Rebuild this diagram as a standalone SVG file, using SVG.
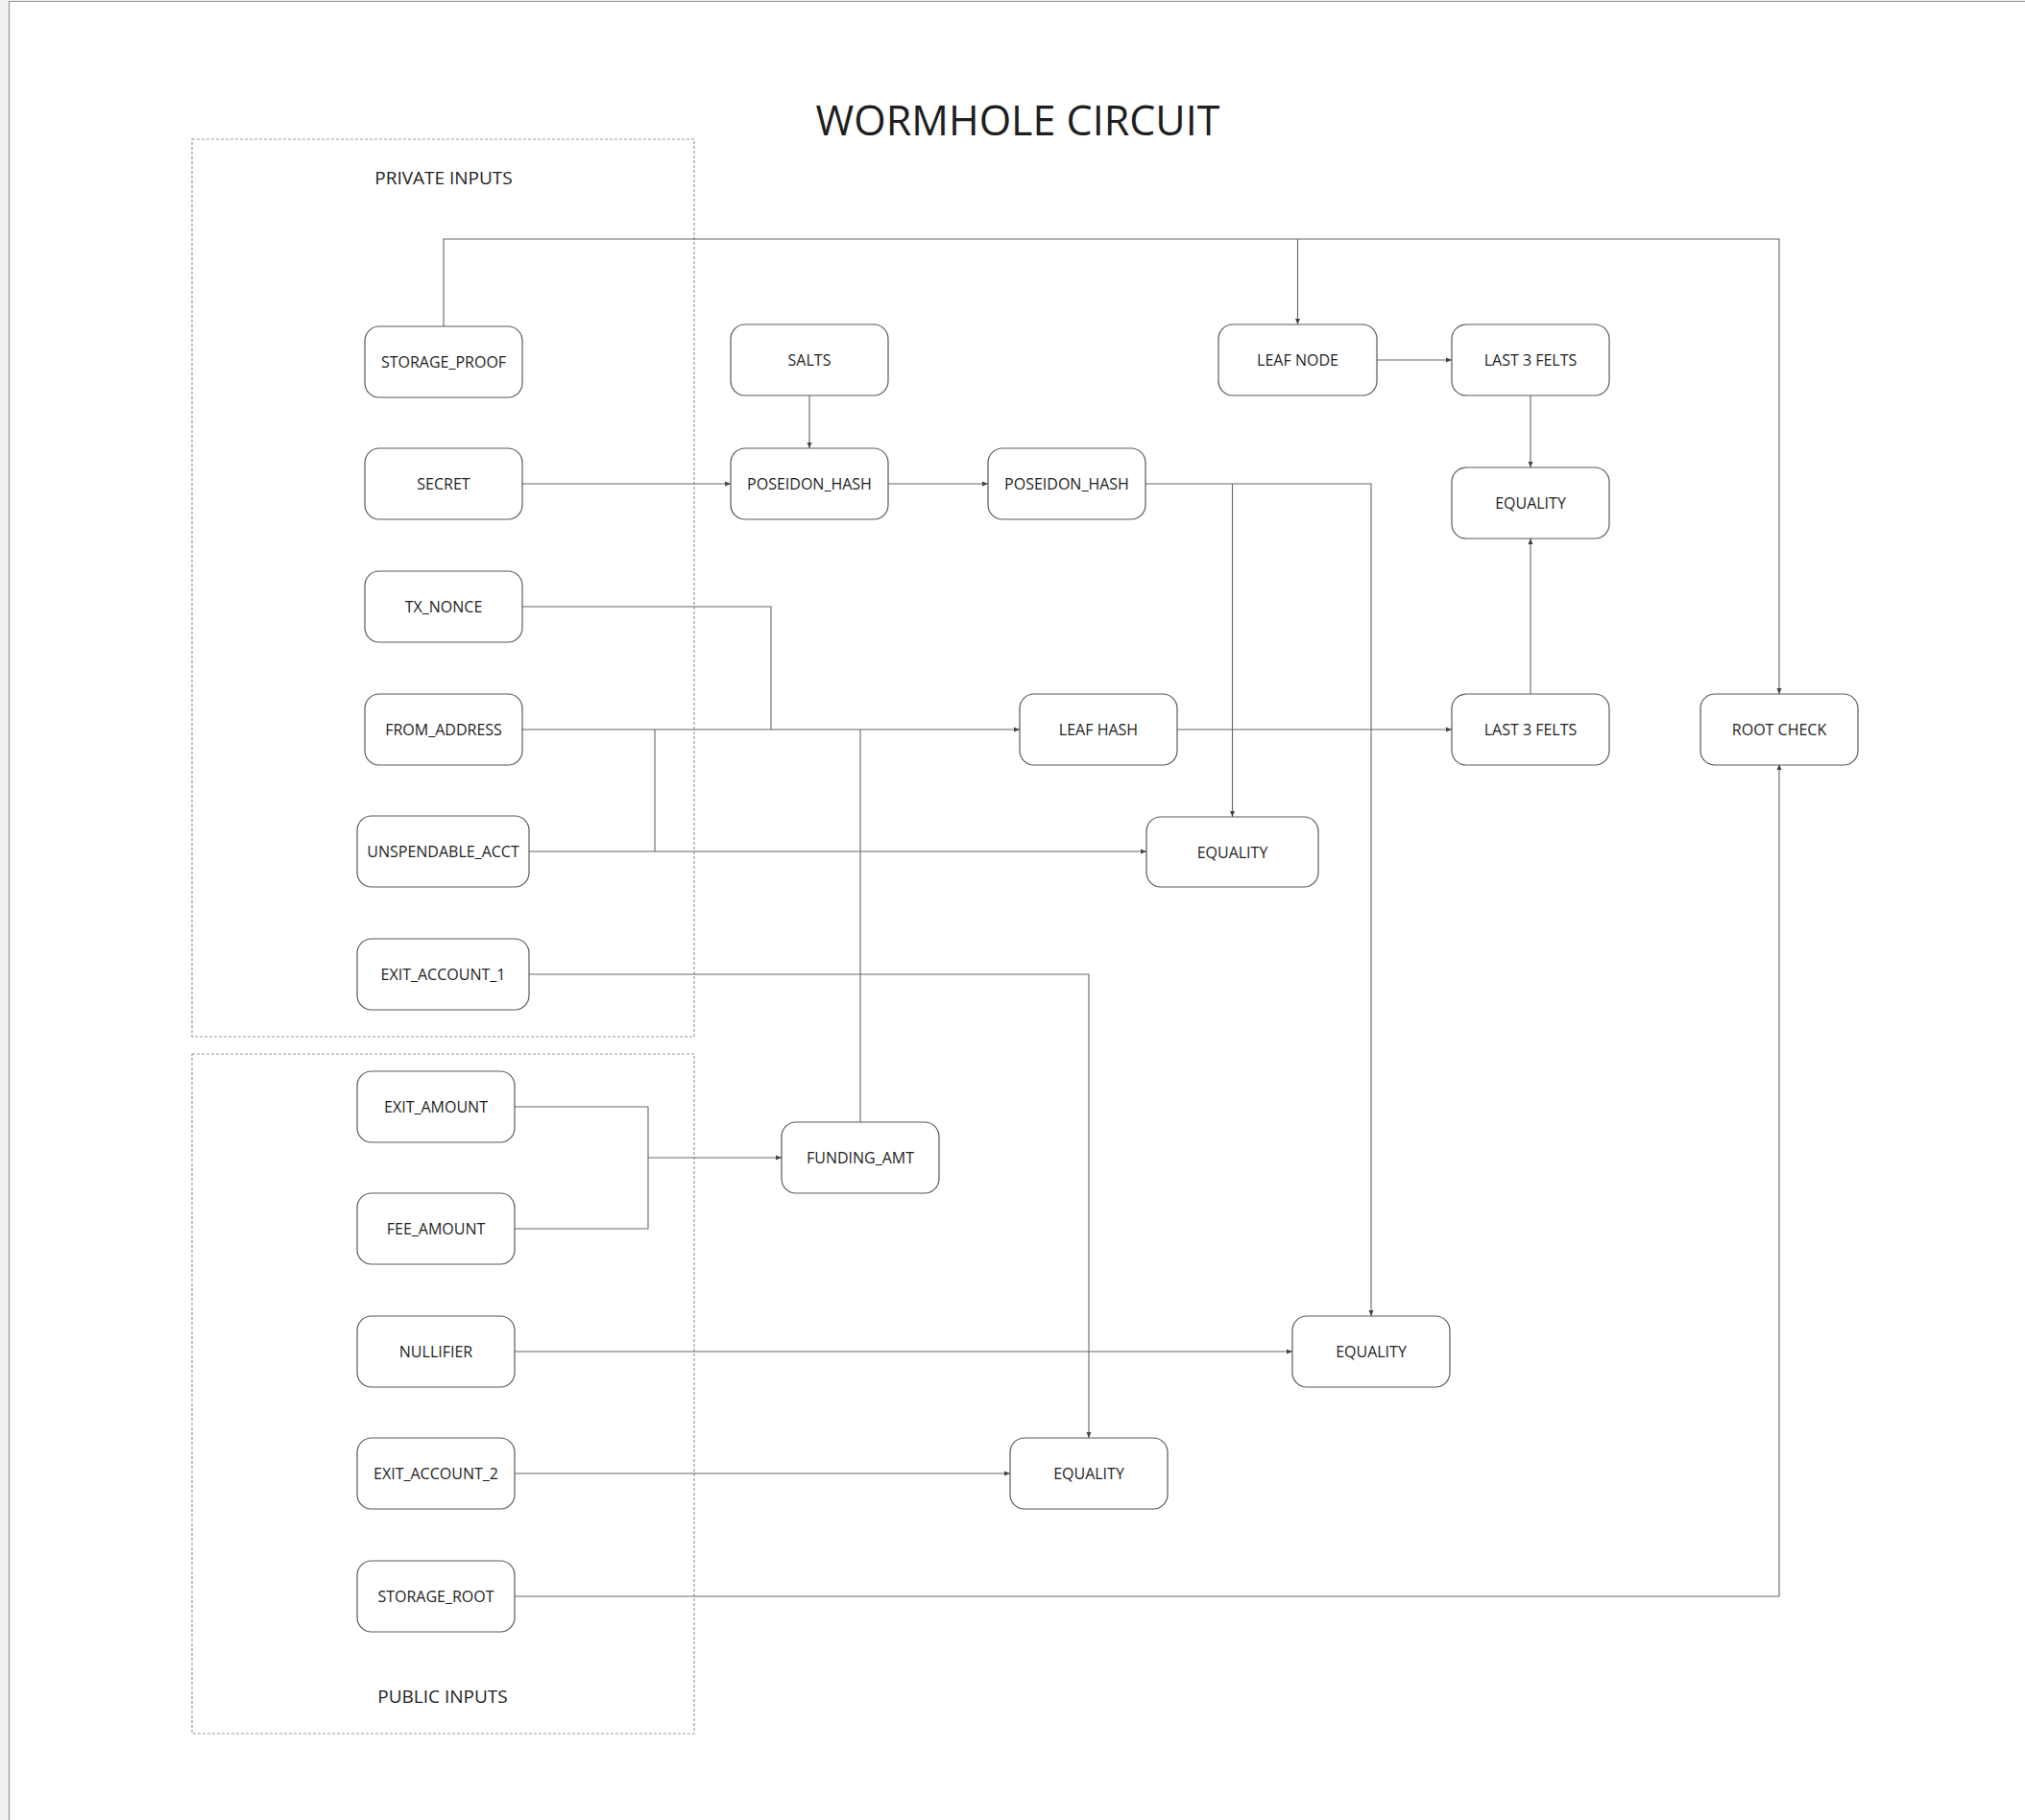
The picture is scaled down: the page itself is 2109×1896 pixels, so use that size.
<svg xmlns="http://www.w3.org/2000/svg" width="2109" height="1896" viewBox="0 0 2109 1896">
<style>
.node rect{fill:#ffffff;stroke:#5a5a5a;stroke-width:1.2}
.node text{font-family:"Open Sans","Noto Sans",sans-serif;font-size:16px;fill:#1e1e1e;text-anchor:middle;dominant-baseline:central}
.conn path{fill:none;stroke:#666;stroke-width:1.1}
.group{fill:none;stroke:#999;stroke-width:1.2;stroke-dasharray:3 2}
.label{font-family:"Open Sans","Noto Sans",sans-serif;font-size:19px;fill:#1e1e1e;text-anchor:middle}
.title{font-family:"Open Sans","Noto Sans",sans-serif;font-size:43px;fill:#1e1e1e;text-anchor:middle}
</style>
<defs>
<marker id="arr" viewBox="0 0 6 6" refX="6" refY="3" markerWidth="6" markerHeight="6" markerUnits="userSpaceOnUse" orient="auto">
<path d="M0,0.5 L6,3 L0,5.5 z" fill="#444"/>
</marker>
</defs>
<rect x="0" y="0" width="2109" height="1896" fill="#f0f0f0"/>
<rect x="9.5" y="1.5" width="2110" height="1900" fill="#ffffff"/>
<path d="M9.5,1896 V1.5 H2109" fill="none" stroke="#999" stroke-width="1.2"/>

<text class="title" x="1060" y="141">WORMHOLE CIRCUIT</text>

<g id="private-inputs">
<rect class="group" x="200" y="145" width="523" height="935"/>
<text class="label" x="462" y="192">PRIVATE INPUTS</text>
</g>
<g id="public-inputs">
<rect class="group" x="200" y="1098" width="523" height="708"/>
<text class="label" x="461" y="1774">PUBLIC INPUTS</text>
</g>

<g class="conn" id="connectors">
<path d="M462,340 V249 H1853 V723" marker-end="url(#arr)"/>
<path d="M1351.5,249 V338" marker-end="url(#arr)"/>
<path d="M1434,375 H1512" marker-end="url(#arr)"/>
<path d="M1594,412 V487" marker-end="url(#arr)"/>
<path d="M1594,723 V561" marker-end="url(#arr)"/>
<path d="M843,412 V467" marker-end="url(#arr)"/>
<path d="M544,504 H761" marker-end="url(#arr)"/>
<path d="M925,504 H1029" marker-end="url(#arr)"/>
<path d="M1193,504 H1428 V1371" marker-end="url(#arr)"/>
<path d="M1283.5,504 V851" marker-end="url(#arr)"/>
<path d="M544,632 H803 V760"/>
<path d="M544,760 H1062" marker-end="url(#arr)"/>
<path d="M551,887 H682 V760"/>
<path d="M682,887 H1194" marker-end="url(#arr)"/>
<path d="M896,1169 V760"/>
<path d="M551,1015 H1134 V1498" marker-end="url(#arr)"/>
<path d="M536,1153 H675 V1280 H536"/>
<path d="M675,1206 H814" marker-end="url(#arr)"/>
<path d="M536,1408 H1346" marker-end="url(#arr)"/>
<path d="M536,1535 H1052" marker-end="url(#arr)"/>
<path d="M536,1663 H1853 V796" marker-end="url(#arr)"/>
<path d="M1226,760 H1512" marker-end="url(#arr)"/>
</g>

<g class="node" id="storage-proof"><rect x="380" y="340" width="164" height="74" rx="15"/><text x="462" y="377">STORAGE_PROOF</text></g>
<g class="node" id="secret"><rect x="380" y="467" width="164" height="74" rx="15"/><text x="462" y="504">SECRET</text></g>
<g class="node" id="tx-nonce"><rect x="380" y="595" width="164" height="74" rx="15"/><text x="462" y="632">TX_NONCE</text></g>
<g class="node" id="from-address"><rect x="380" y="723" width="164" height="74" rx="15"/><text x="462" y="760">FROM_ADDRESS</text></g>
<g class="node" id="unspendable-acct"><rect x="372" y="850" width="179" height="74" rx="15"/><text x="461.5" y="887">UNSPENDABLE_ACCT</text></g>
<g class="node" id="exit-account-1"><rect x="372" y="978" width="179" height="74" rx="15"/><text x="461.5" y="1015">EXIT_ACCOUNT_1</text></g>

<g class="node" id="exit-amount"><rect x="372" y="1116" width="164" height="74" rx="15"/><text x="454" y="1153">EXIT_AMOUNT</text></g>
<g class="node" id="fee-amount"><rect x="372" y="1243" width="164" height="74" rx="15"/><text x="454" y="1280">FEE_AMOUNT</text></g>
<g class="node" id="nullifier"><rect x="372" y="1371" width="164" height="74" rx="15"/><text x="454" y="1408">NULLIFIER</text></g>
<g class="node" id="exit-account-2"><rect x="372" y="1498" width="164" height="74" rx="15"/><text x="454" y="1535">EXIT_ACCOUNT_2</text></g>
<g class="node" id="storage-root"><rect x="372" y="1626" width="164" height="74" rx="15"/><text x="454" y="1663">STORAGE_ROOT</text></g>

<g class="node" id="salts"><rect x="761" y="338" width="164" height="74" rx="15"/><text x="843" y="375">SALTS</text></g>
<g class="node" id="poseidon-hash-1"><rect x="761" y="467" width="164" height="74" rx="15"/><text x="843" y="504">POSEIDON_HASH</text></g>
<g class="node" id="poseidon-hash-2"><rect x="1029" y="467" width="164" height="74" rx="15"/><text x="1111" y="504">POSEIDON_HASH</text></g>
<g class="node" id="leaf-node"><rect x="1269" y="338" width="165" height="74" rx="15"/><text x="1351.5" y="375">LEAF NODE</text></g>
<g class="node" id="last-3-felts-1"><rect x="1512" y="338" width="164" height="74" rx="15"/><text x="1594" y="375">LAST 3 FELTS</text></g>
<g class="node" id="equality-felts"><rect x="1512" y="487" width="164" height="74" rx="15"/><text x="1594" y="524">EQUALITY</text></g>
<g class="node" id="leaf-hash"><rect x="1062" y="723" width="164" height="74" rx="15"/><text x="1144" y="760">LEAF HASH</text></g>
<g class="node" id="last-3-felts-2"><rect x="1512" y="723" width="164" height="74" rx="15"/><text x="1594" y="760">LAST 3 FELTS</text></g>
<g class="node" id="root-check"><rect x="1771" y="723" width="164" height="74" rx="15"/><text x="1853" y="760">ROOT CHECK</text></g>
<g class="node" id="equality-unspendable"><rect x="1194" y="851" width="179" height="73" rx="15"/><text x="1283.5" y="887.5">EQUALITY</text></g>
<g class="node" id="funding-amt"><rect x="814" y="1169" width="164" height="74" rx="15"/><text x="896" y="1206">FUNDING_AMT</text></g>
<g class="node" id="equality-nullifier"><rect x="1346" y="1371" width="164" height="74" rx="15"/><text x="1428" y="1408">EQUALITY</text></g>
<g class="node" id="equality-exit"><rect x="1052" y="1498" width="164" height="74" rx="15"/><text x="1134" y="1535">EQUALITY</text></g>
</svg>
